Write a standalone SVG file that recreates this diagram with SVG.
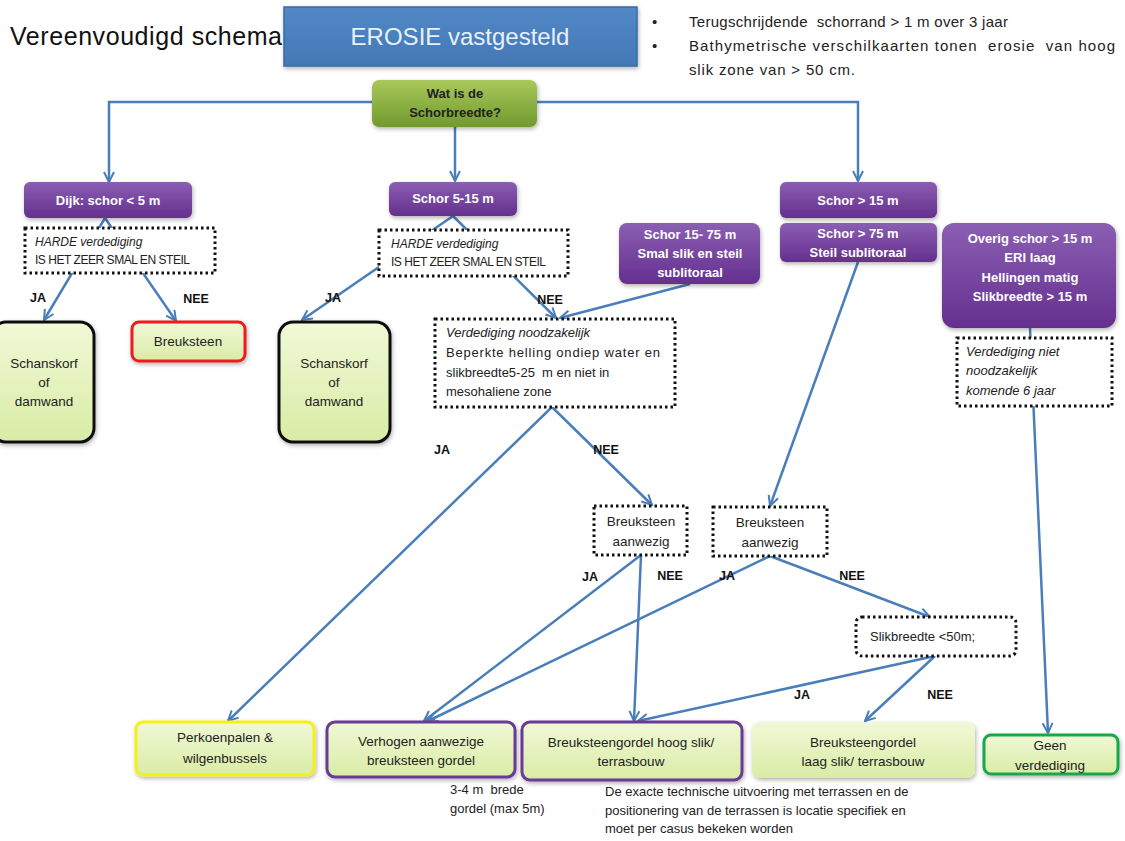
<svg xmlns="http://www.w3.org/2000/svg" width="1125" height="841" viewBox="0 0 1125 841">
  <defs>
    <linearGradient id="gPurple" x1="0" y1="0" x2="0" y2="1">
      <stop offset="0" stop-color="#8a5fb3"/>
      <stop offset="1" stop-color="#652f8e"/>
    </linearGradient>
    <linearGradient id="gGreenQ" x1="0" y1="0" x2="0" y2="1">
      <stop offset="0" stop-color="#a9c85c"/>
      <stop offset="1" stop-color="#719a2c"/>
    </linearGradient>
    <linearGradient id="gLight" x1="0" y1="0" x2="0" y2="1">
      <stop offset="0" stop-color="#f1f8d6"/>
      <stop offset="1" stop-color="#d9eca6"/>
    </linearGradient>
    <linearGradient id="gBlue" x1="0" y1="0" x2="0" y2="1">
      <stop offset="0" stop-color="#5288c6"/>
      <stop offset="1" stop-color="#4378b6"/>
    </linearGradient>
    <filter id="shadow" x="-10%" y="-10%" width="130%" height="140%">
      <feDropShadow dx="1" dy="2" stdDeviation="2" flood-color="#000" flood-opacity="0.3"/>
    </filter>
    <marker id="arrow" viewBox="0 0 12 12" refX="11" refY="6" markerWidth="12" markerHeight="12" markerUnits="userSpaceOnUse" orient="auto">
      <path d="M1,1 L11,6 L1,11" fill="none" stroke="#4a7ebb" stroke-width="2"/>
    </marker>
    <style>
      text { font-family: "Liberation Sans", Arial, sans-serif; fill: #222; white-space: pre; }
      .conn { fill: none; stroke: #4a7ebb; stroke-width: 2.5; }
      .arr { marker-end: url(#arrow); }
      .purple { fill: url(#gPurple); filter: url(#shadow); }
      .ptxt { fill: #fff; font-weight: bold; font-size: 13px; text-anchor: middle; }
      .dotted { fill: #fff; stroke: #111; stroke-width: 3; stroke-dasharray: 2.5 3; }
      .dtxt { font-size: 12px; }
      .res { fill: url(#gLight); stroke-width: 3; filter: url(#shadow); }
      .rtxt { font-size: 13.5px; text-anchor: middle; }
      .lbl { font-size: 12.5px; font-weight: bold; text-anchor: middle; fill: #111; }
      .note { font-size: 13px; }
      .it { font-style: italic; }
    </style>
  </defs>

  <rect width="1125" height="841" fill="#fff"/>

  <!-- heading -->
  <g id="title">
    <text x="10" y="45" font-size="25" textLength="272" style="fill:#111">Vereenvoudigd schema</text>
  </g>
  <g id="erosie">
    <rect x="284" y="7" width="353" height="59" fill="url(#gBlue)" stroke="#3a6aa5" stroke-width="1.5" filter="url(#shadow)"/>
    <text x="460" y="45" font-size="24" text-anchor="middle" style="fill:#e8f0fa">EROSIE vastgesteld</text>
  </g>
  <g id="criteria" font-size="15">
    <text x="652" y="27" style="fill:#222">•</text>
    <text x="689" y="27" textLength="319" style="fill:#222">Terugschrijdende  schorrand &gt; 1 m over 3 jaar</text>
    <text x="652" y="51" style="fill:#222">•</text>
    <text x="689" y="51" textLength="426" style="fill:#222">Bathymetrische verschilkaarten tonen  erosie  van hoog</text>
    <text x="689" y="75" textLength="166" style="fill:#222">slik zone van &gt; 50 cm.</text>
  </g>

  <!-- connectors -->
  <g id="connectors">
    <polyline class="conn arr" points="455,102 109,102 109,182"/>
    <polyline class="conn arr" points="455,102 858,102 858,181"/>
    <line class="conn arr" x1="455" y1="127" x2="455" y2="181"/>

    <line class="conn arr" x1="105" y1="218" x2="44" y2="320"/>
    <line class="conn arr" x1="105" y1="218" x2="176" y2="321"/>

    <line class="conn arr" x1="453" y1="216" x2="302" y2="320"/>
    <line class="conn arr" x1="453" y1="216" x2="556" y2="318"/>
    <line class="conn arr" x1="690" y1="284" x2="560" y2="318"/>

    <line class="conn arr" x1="552" y1="407" x2="228" y2="721"/>
    <line class="conn arr" x1="552" y1="407" x2="652" y2="505"/>
    <line class="conn arr" x1="858" y1="262" x2="770" y2="506"/>
    <line class="conn arr" x1="1030" y1="328" x2="1048" y2="733"/>

    <line class="conn arr" x1="641" y1="555" x2="424" y2="721"/>
    <line class="conn arr" x1="641" y1="555" x2="634" y2="721"/>
    <line class="conn arr" x1="770" y1="556" x2="428" y2="721"/>
    <line class="conn arr" x1="770" y1="556" x2="930" y2="617"/>

    <line class="conn arr" x1="935" y1="656" x2="638" y2="721"/>
    <line class="conn arr" x1="935" y1="656" x2="865" y2="721"/>
  </g>

  <!-- question node -->
  <g id="vraag">
    <rect x="372" y="80" width="165" height="47" rx="7" fill="url(#gGreenQ)" filter="url(#shadow)"/>
    <text x="455" y="98" font-size="13" font-weight="bold" text-anchor="middle">Wat is de</text>
    <text x="455" y="117" font-size="13" font-weight="bold" text-anchor="middle">Schorbreedte?</text>
  </g>

  <!-- width classes -->
  <g id="dijk">
    <rect class="purple" x="24" y="182" width="168" height="36" rx="6"/>
    <text class="ptxt" x="108" y="205">Dijk: schor &lt; 5 m</text>
  </g>
  <g id="schor-5-15">
    <rect class="purple" x="389" y="182" width="128" height="34" rx="6"/>
    <text class="ptxt" x="453" y="203">Schor 5-15 m</text>
  </g>
  <g id="schor-15">
    <rect class="purple" x="780" y="182" width="157" height="36" rx="6"/>
    <text class="ptxt" x="858" y="205">Schor &gt; 15 m</text>
  </g>
  <g id="schor-15-75">
    <rect class="purple" x="619" y="223" width="141" height="61" rx="8"/>
    <text class="ptxt" x="690" y="239">Schor 15- 75 m</text>
    <text class="ptxt" x="690" y="258">Smal slik en steil</text>
    <text class="ptxt" x="690" y="277">sublitoraal</text>
  </g>
  <g id="schor-75">
    <rect class="purple" x="780" y="223" width="157" height="39" rx="6"/>
    <text class="ptxt" x="858" y="238">Schor &gt; 75 m</text>
    <text class="ptxt" x="858" y="257">Steil sublitoraal</text>
  </g>
  <g id="overig-schor">
    <rect class="purple" x="942" y="223" width="174" height="105" rx="12"/>
    <text class="ptxt" x="1030" y="243">Overig schor &gt; 15 m</text>
    <text class="ptxt" x="1030" y="262">ERI laag</text>
    <text class="ptxt" x="1030" y="282">Hellingen matig</text>
    <text class="ptxt" x="1030" y="301">Slikbreedte &gt; 15 m</text>
  </g>

  <!-- decision boxes -->
  <g id="harde-1">
    <rect class="dotted" x="25" y="228" width="190" height="45"/>
    <text class="dtxt it" x="35" y="246">HARDE verdediging</text>
    <text class="dtxt" x="35" y="264" textLength="155">IS HET ZEER SMAL EN STEIL</text>
  </g>
  <g id="harde-2">
    <rect class="dotted" x="379" y="230" width="189" height="46"/>
    <text class="dtxt it" x="391" y="248">HARDE verdediging</text>
    <text class="dtxt" x="391" y="266" textLength="155">IS HET ZEER SMAL EN STEIL</text>
  </g>
  <g id="noodzakelijk">
    <rect class="dotted" x="435" y="319" width="240" height="88"/>
    <text class="note it" x="446" y="337">Verdediging noodzakelijk</text>
    <text class="note" x="446" y="357" textLength="214">Beperkte helling ondiep water en</text>
    <text class="note" x="446" y="377">slikbreedte5-25  m en niet in</text>
    <text class="note" x="446" y="396">mesohaliene zone</text>
  </g>
  <g id="niet-noodzakelijk">
    <rect class="dotted" x="957" y="338" width="155" height="68"/>
    <text class="note it" x="966" y="356">Verdediging niet</text>
    <text class="note it" x="966" y="375">noodzakelijk</text>
    <text class="note it" x="966" y="395">komende 6 jaar</text>
  </g>
  <g id="breuksteen-aanwezig-1">
    <rect class="dotted" x="594" y="506" width="93" height="49"/>
    <text class="rtxt" x="641" y="526">Breuksteen</text>
    <text class="rtxt" x="641" y="546">aanwezig</text>
  </g>
  <g id="breuksteen-aanwezig-2">
    <rect class="dotted" x="713" y="507" width="114" height="49"/>
    <text class="rtxt" x="770" y="527">Breuksteen</text>
    <text class="rtxt" x="770" y="547">aanwezig</text>
  </g>
  <g id="slikbreedte">
    <rect class="dotted" x="856" y="617" width="160" height="39" rx="6"/>
    <text class="note" x="870" y="641">Slikbreedte &lt;50m;</text>
  </g>

  <!-- outcomes -->
  <g id="schanskorf-1">
    <rect class="res" x="-8" y="322" width="102" height="120" rx="14" stroke="#111"/>
    <text class="rtxt" x="44" y="368">Schanskorf</text>
    <text class="rtxt" x="44" y="387">of</text>
    <text class="rtxt" x="44" y="406">damwand</text>
  </g>
  <g id="breuksteen">
    <rect class="res" x="132" y="322" width="113" height="39" rx="7" stroke="#ee1c1c"/>
    <text class="rtxt" x="188" y="346">Breuksteen</text>
  </g>
  <g id="schanskorf-2">
    <rect class="res" x="279" y="322" width="111" height="120" rx="14" stroke="#111"/>
    <text class="rtxt" x="334" y="368">Schanskorf</text>
    <text class="rtxt" x="334" y="387">of</text>
    <text class="rtxt" x="334" y="406">damwand</text>
  </g>
  <g id="perkoenpalen">
    <rect class="res" x="136" y="722" width="178" height="53" rx="7" stroke="#f5ef1a"/>
    <text class="rtxt" x="225" y="742">Perkoenpalen &amp;</text>
    <text class="rtxt" x="225" y="763">wilgenbussels</text>
  </g>
  <g id="verhogen">
    <rect class="res" x="327" y="722" width="188" height="55" rx="8" stroke="#6b3a96"/>
    <text class="rtxt" x="421" y="746">Verhogen aanwezige</text>
    <text class="rtxt" x="421" y="765">breuksteen gordel</text>
  </g>
  <g id="hoog-slik">
    <rect class="res" x="522" y="722" width="220" height="58" rx="8" stroke="#6b3a96"/>
    <text class="rtxt" x="631" y="747">Breuksteengordel hoog slik/</text>
    <text class="rtxt" x="631" y="766">terrasbouw</text>
  </g>
  <g id="laag-slik">
    <rect class="res" x="752" y="722" width="223" height="56" rx="8" stroke="none"/>
    <text class="rtxt" x="863" y="747">Breuksteengordel</text>
    <text class="rtxt" x="863" y="766">laag slik/ terrasbouw</text>
  </g>
  <g id="geen-verdediging">
    <rect class="res" x="984" y="735" width="134" height="39" rx="7" stroke="#19a84a" stroke-width="4"/>
    <text class="rtxt" x="1050" y="750">Geen</text>
    <text class="rtxt" x="1050" y="770">verdediging</text>
  </g>

  <!-- branch labels -->
  <g id="labels">
    <text class="lbl" x="38" y="302">JA</text>
    <text class="lbl" x="196" y="303">NEE</text>
    <text class="lbl" x="333" y="302">JA</text>
    <text class="lbl" x="550" y="304">NEE</text>
    <text class="lbl" x="442" y="454">JA</text>
    <text class="lbl" x="606" y="454">NEE</text>
    <text class="lbl" x="590" y="581">JA</text>
    <text class="lbl" x="670" y="580">NEE</text>
    <text class="lbl" x="727" y="580">JA</text>
    <text class="lbl" x="852" y="580">NEE</text>
    <text class="lbl" x="802" y="699">JA</text>
    <text class="lbl" x="940" y="699">NEE</text>
  </g>

  <!-- footnotes -->
  <g id="notes">
    <text class="note" x="450" y="794">3-4 m  brede</text>
    <text class="note" x="450" y="813">gordel (max 5m)</text>
    <text class="note" x="605" y="796">De exacte technische uitvoering met terrassen en de</text>
    <text class="note" x="605" y="815">positionering van de terrassen is locatie specifiek en</text>
    <text class="note" x="605" y="833">moet per casus bekeken worden</text>
  </g>
</svg>
